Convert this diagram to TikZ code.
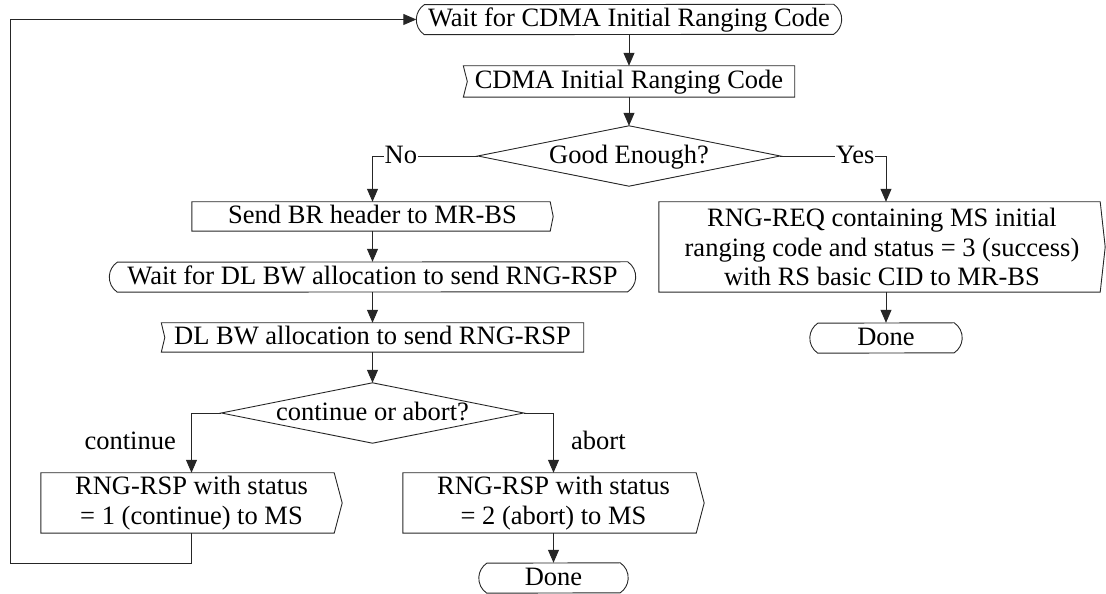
\documentclass[tikz,border=0pt]{standalone}
\usepackage{fontspec}
\setmainfont{Liberation Serif}
\usetikzlibrary{arrows.meta,calc}
\newcommand\fcOut[2]{\draw[shp] (#1.north west) -- ([xshift=-#2]#1.north east) -- (#1.east) -- ([xshift=-#2]#1.south east) -- (#1.south west) -- cycle;}
\newcommand\fcIn[2]{\draw[shp] (#1.north west) -- (#1.north east) -- (#1.south east) -- (#1.south west) -- ([xshift=#2]#1.west) -- cycle;}
\newcommand\fcWait[1]{\draw[shp] ([xshift=8pt]#1.south west) arc[start angle=236.2,end angle=123.8,radius=18.06pt] -- ([xshift=-8pt]#1.north east) arc[start angle=56.2,end angle=-56.2,radius=18.06pt] -- cycle;}
\newcommand\fcDec[1]{\draw[shp] (#1.west) -- (#1.north) -- (#1.east) -- (#1.south) -- cycle;}
\begin{document}
\begin{tikzpicture}[x=1pt,y=1pt,
  font=\fontsize{26.5}{30.5}\selectfont,
  shp/.style={draw=black!85,line width=0.9pt},
  one/.style={rectangle,inner sep=0pt,text height=19pt,text depth=4pt},
  multi/.style={rectangle,inner sep=0pt,align=center},
  waitst/.style={one,minimum height=30pt},
  dec/.style={one,minimum width=302pt,minimum height=60pt},
  arr/.style={draw=black!85,line width=0.9pt,-{Triangle[length=13pt,width=11pt]}},
  lbl/.style={one,fill=white,inner xsep=1pt}]
\useasboundingbox (0,0) rectangle (1106,594);
% nodes
\node[waitst,minimum width=425pt] (w1) at (629,574.5) {Wait for CDMA Initial Ranging Code};
\node[one,minimum width=331pt,minimum height=31pt] (cdma) at (629,512.5) {CDMA Initial Ranging Code};
\node[dec] (d1) at (629,438) {Good Enough?};
\node[one,minimum width=361pt,minimum height=29pt] (br) at (372.5,377.5) {Send BR header to MR-BS};
\node[waitst,minimum width=526pt] (w2) at (372.5,317) {Wait for DL BW allocation to send RNG-RSP};
\node[one,minimum width=422pt,minimum height=29pt] (dl) at (372.5,256.5) {DL BW allocation to send RNG-RSP};
\node[dec] (d2) at (372.5,181) {continue or abort?};
\node[multi,minimum width=301pt,minimum height=60pt] (cont) at (191.5,91) {RNG-RSP with status\\= 1 (continue) to MS};
\node[multi,minimum width=301pt,minimum height=60pt] (abrt) at (553.5,91) {RNG-RSP with status\\= 2 (abort) to MS};
\node[waitst,minimum width=149pt] (done2) at (553.5,16) {Done};
\node[multi,minimum width=446pt,minimum height=90pt,font=\fontsize{26.5}{29.5}\selectfont] (req) at (882,347) {RNG-REQ containing MS initial\\ranging code and status = 3 (success)\\with RS basic CID to MR-BS};
\node[waitst,minimum width=152pt] (done1) at (886,256) {Done};
\node[one,anchor=base east] (lc) at (176,144) {continue};
\node[one,anchor=base west] (la) at (571,144) {abort};
% outlines
\fcWait{w1}
\fcIn{cdma}{4pt}
\fcDec{d1}
\fcOut{br}{3pt}
\fcWait{w2}
\fcIn{dl}{3.5pt}
\fcDec{d2}
\fcOut{cont}{8pt}
\fcOut{abrt}{8pt}
\fcWait{done2}
\fcOut{req}{5pt}
\fcWait{done1}
% connectors
\coordinate (fbA) at (191.5,31);
\coordinate (fbB) at (10,31);
\draw[arr] (w1.south) -- (cdma.north);
\draw[arr] (cdma.south) -- (d1.north);
\draw[arr] (d1.west) -| node[lbl,pos=0.365] {No} (br.north);
\draw[arr] (d1.east) -| node[lbl,pos=0.354] {Yes} (done1.north |- req.north);
\draw[arr] (done1.north |- req.south) -- (done1.north);
\draw[arr] (br.south) -- (w2.north);
\draw[arr] (w2.south) -- (dl.north);
\draw[arr] (dl.south) -- (d2.north);
\draw[arr] (d2.west) -| (cont.north);
\draw[arr] (d2.east) -| (abrt.north);
\draw[arr] (abrt.south) -- (done2.north);
\draw[arr] (cont.south) -- (fbA) -- (fbB) |- (w1.west);
\end{tikzpicture}
\end{document}
